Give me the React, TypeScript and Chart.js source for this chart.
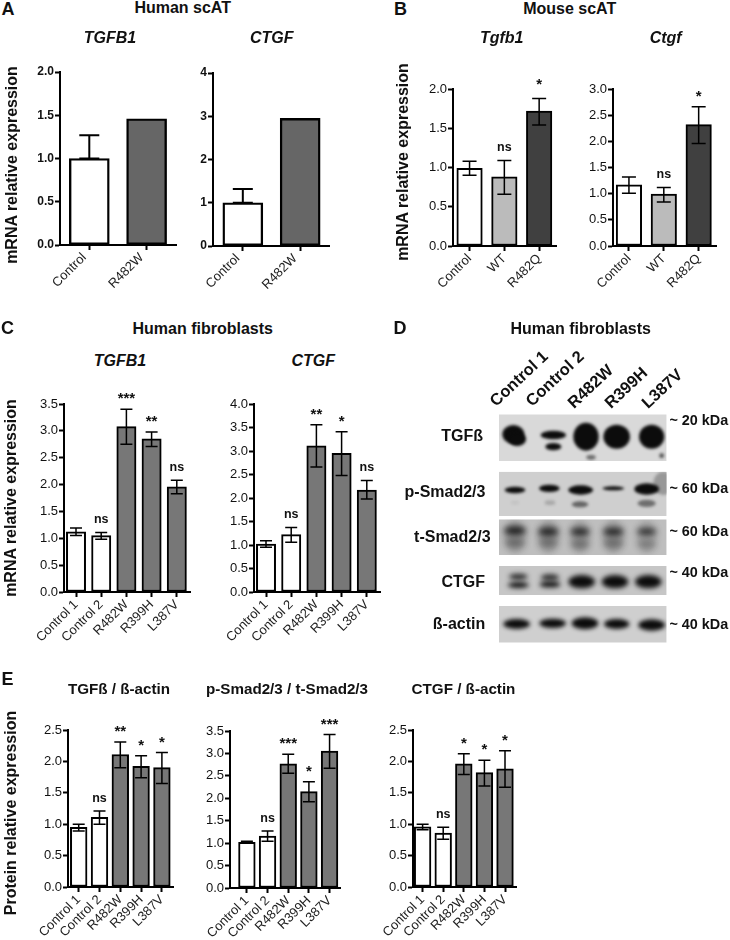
import React, { useEffect, useRef } from "react";
import { Chart, registerables } from "chart.js";

Chart.register(...registerables);

const FONT = '"Liberation Sans", Arial, sans-serif';

// ---------- data ----------
const labelsA = ["Control", "R482W"];
const labelsB = ["Control", "WT", "R482Q"];
const labelsCE = ["Control 1", "Control 2", "R482W", "R399H", "L387V"];

const a1Values = [1.0, 1.46];
const a1Low = [1.0, 1.46];
const a1High = [1.27, 1.46];
const a2Values = [1.0, 2.95];
const a2Low = [1.0, 2.95];
const a2High = [1.32, 2.95];

const b1Values = [0.99, 0.88, 1.72];
const b1Low = [0.9, 0.66, 1.54];
const b1High = [1.08, 1.09, 1.88];
const b1Sig = ["", "ns", "*"];
const b2Values = [1.17, 0.99, 2.32];
const b2Low = [1.01, 0.84, 1.96];
const b2High = [1.32, 1.12, 2.66];
const b2Sig = ["", "ns", "*"];

const c1Values = [1.12, 1.05, 3.08, 2.85, 1.96];
const c1Low = [1.05, 0.98, 2.75, 2.71, 1.83];
const c1High = [1.19, 1.11, 3.4, 2.98, 2.08];
const c1Sig = ["", "ns", "***", "**", "ns"];
const c2Values = [1.02, 1.22, 3.11, 2.95, 2.17];
const c2Low = [0.95, 1.06, 2.66, 2.48, 1.98];
const c2High = [1.09, 1.37, 3.56, 3.41, 2.37];
const c2Sig = ["", "ns", "**", "*", "ns"];

const e1Values = [0.95, 1.11, 2.11, 1.92, 1.9];
const e1Low = [0.89, 1.0, 1.9, 1.74, 1.65];
const e1High = [1.0, 1.21, 2.31, 2.09, 2.14];
const e1Sig = ["", "ns", "**", "*", "*"];
const e2Values = [1.02, 1.16, 2.77, 2.15, 3.05];
const e2Low = [1.0, 1.04, 2.56, 1.92, 2.67];
const e2High = [1.04, 1.27, 2.98, 2.37, 3.42];
const e2Sig = ["", "ns", "***", "*", "***"];
const e3Values = [0.96, 0.86, 1.96, 1.82, 1.88];
const e3Low = [0.91, 0.76, 1.79, 1.61, 1.59];
const e3High = [1.0, 0.95, 2.12, 2.02, 2.17];
const e3Sig = ["", "ns", "*", "*", "*"];

const colorsA = ["#ffffff", "#666666"];
const colorsB = ["#ffffff", "#bbbbbb", "#404040"];
const colorsCE = ["#ffffff", "#ffffff", "#777777", "#777777", "#777777"];

// Western blot: membrane [x0, y0, x1, y1, grey, blur] and bands [x, y, rx, ry, alpha]
const blotMembranes: number[][] = [
  [297, 283, 800, 423, 217, 1.6],
  [297, 455, 800, 588, 207, 1.8],
  [297, 598, 800, 705, 190, 3],
  [297, 738, 800, 825, 198, 2.4],
  [297, 858, 800, 968, 207, 2],
];
const blotTgfb: number[][] = [
  [340, 343, 33, 28, 1], [352, 358, 26, 20, 1],
  [460, 345, 38, 13, 1], [460, 380, 24, 11, 1],
  [558, 350, 38, 42, 1], [573, 412, 14, 7, 0.55],
  [650, 350, 40, 36, 1], [755, 350, 38, 36, 1], [785, 407, 7, 7, 0.7],
];
const blotPSmad: number[][] = [
  [345, 510, 31, 10, 1], [448, 505, 31, 11, 1], [542, 510, 37, 14, 1],
  [640, 505, 33, 6, 1], [740, 507, 37, 17, 1],
  [450, 548, 16, 7, 0.2], [540, 553, 25, 9, 0.55], [740, 550, 27, 11, 0.5],
  [345, 548, 12, 5, 0.08], [790, 490, 30, 35, 0.28],
];
const blotTSmad: number[][] = [
  [345, 650, 32, 50, 0.18], [445, 650, 32, 50, 0.18], [540, 650, 30, 50, 0.16],
  [640, 650, 32, 50, 0.18], [740, 650, 30, 50, 0.14],
  [345, 632, 33, 13, 0.9], [445, 635, 31, 13, 0.85], [540, 635, 29, 12, 0.85],
  [640, 635, 31, 12, 0.85], [740, 635, 29, 10, 0.85],
  [345, 668, 30, 15, 0.35], [445, 668, 28, 15, 0.33], [540, 672, 28, 15, 0.33],
  [640, 670, 30, 15, 0.33], [740, 672, 28, 15, 0.26],
];
const blotCtgf: number[][] = [
  [355, 770, 28, 9, 0.85], [355, 795, 32, 9, 1],
  [450, 772, 28, 9, 0.85], [450, 793, 32, 9, 1],
  [545, 785, 40, 20, 1], [645, 785, 40, 20, 1], [745, 785, 40, 20, 1],
];
const blotActin: number[][] = [
  [350, 912, 40, 15, 1], [458, 910, 40, 14, 1], [555, 910, 40, 18, 1],
  [650, 912, 38, 15, 1], [755, 915, 40, 17, 1],
];

type Spec = {
  labels: string[]; values: number[]; low: number[]; high: number[]; sig?: string[];
  colors: string[]; yMax: number; yStep: number; decimals: number;
  axisX: number; top: number; bottom: number; right: number; c0: number; step: number;
  barW: number; capW: number; errW: number; tickBold?: boolean; tickFont: number;
  borderW?: number; labelShift?: number; starLift?: number;
};

const makeChart = (canvas: HTMLCanvasElement, sp: Spec, yw: number, pt: number, pr: number, xh: number) => {
  const errorPlugin = {
    id: "errs",
    afterDatasetsDraw(chart: any) {
      const { ctx, scales } = chart;
      ctx.save();
      ctx.strokeStyle = "#000";
      ctx.lineWidth = sp.errW;
      sp.values.forEach((_, i) => {
        const x = scales.x.getPixelForValue(i);
        const yl = scales.y.getPixelForValue(sp.low[i]);
        const yh = scales.y.getPixelForValue(sp.high[i]);
        if (sp.high[i] !== sp.low[i]) {
          ctx.beginPath();
          ctx.moveTo(x, yl); ctx.lineTo(x, yh);
          ctx.moveTo(x - sp.capW / 2, yh); ctx.lineTo(x + sp.capW / 2, yh);
          ctx.moveTo(x - sp.capW / 2, yl); ctx.lineTo(x + sp.capW / 2, yl);
          ctx.stroke();
        }
        const s = sp.sig ? sp.sig[i] : "";
        if (s) {
          ctx.fillStyle = "#111";
          ctx.textAlign = "center";
          ctx.textBaseline = "alphabetic";
          if (s === "ns") {
            ctx.font = `bold 12.5px ${FONT}`;
            ctx.fillText(s, x, yh - 9.5);
          } else {
            ctx.font = `bold 15px ${FONT}`;
            ctx.fillText(s, x, yh - 6 - (sp.starLift || 0));
          }
        }
      });
      ctx.restore();
    },
  };
  return new Chart(canvas, {
    type: "bar",
    data: {
      datasets: [{
        data: sp.values.map((v, i) => ({ x: i, y: v })),
        backgroundColor: sp.colors,
        borderColor: "#000",
        borderWidth: sp.borderW || 2,
        borderSkipped: false,
        barThickness: sp.barW,
      }],
    } as any,
    options: {
      animation: false,
      responsive: false,
      maintainAspectRatio: false,
      layout: { padding: { top: pt, right: pr, left: 0, bottom: 0 } },
      plugins: { legend: { display: false }, tooltip: { enabled: false }, title: { display: false } },
      scales: {
        x: {
          type: "linear",
          offset: false,
          min: (sp.axisX - sp.c0) / sp.step,
          max: (sp.right - sp.c0) / sp.step,
          afterBuildTicks: (s: any) => { s.ticks = sp.labels.map((_, i) => ({ value: i })); },
          afterFit: (s: any) => { s.height = xh; s.paddingLeft = 0; s.paddingRight = 0; },
          grid: { offset: false, display: true, drawOnChartArea: false, drawTicks: true, tickLength: 5, tickWidth: 2, tickColor: "#000" },
          border: { display: true, width: 2, color: "#000", z: 2 },
          ticks: {
            autoSkip: false, minRotation: 45, maxRotation: 45, padding: 0, color: "#222",
            labelOffset: sp.labelShift || 0,
            font: { family: FONT, size: 13 },
            callback: (_v: any, i: number) => sp.labels[i],
          },
        },
        y: {
          type: "linear",
          min: 0,
          max: sp.yMax,
          afterFit: (s: any) => { s.width = yw; s.paddingTop = 0; s.paddingBottom = 0; },
          grid: { display: true, drawOnChartArea: false, drawTicks: true, tickLength: 5, tickWidth: 2, tickColor: "#000" },
          border: { display: true, width: 2, color: "#000", z: 2 },
          ticks: {
            stepSize: sp.yStep, padding: 1, color: "#111",
            font: { family: FONT, size: sp.tickFont, weight: sp.tickBold ? "bold" : "normal" },
            callback: (v: any) => Number(v).toFixed(sp.decimals),
          },
        },
      },
    } as any,
    plugins: [errorPlugin],
  } as any);
};

const BarPanel = ({ sp }: { sp: Spec }) => {
  const ref = useRef<HTMLCanvasElement>(null);
  const yw = 44, pt = 34, pr = 6, xh = 58;
  const left = sp.axisX - yw;
  const topPx = sp.top - pt;
  const width = sp.right - sp.axisX + yw + pr;
  const height = sp.bottom - sp.top + pt + xh;
  useEffect(() => {
    const c = makeChart(ref.current!, sp, yw, pt, pr, xh);
    return () => c.destroy();
  }, []);
  return <canvas ref={ref} width={width} height={height} style={{ position: "absolute", left, top: topPx }} />;
};

const blotGroups = [blotTgfb, blotPSmad, blotTSmad, blotCtgf, blotActin];

const BlotPanel = () => {
  const ref = useRef<HTMLCanvasElement>(null);
  useEffect(() => {
    const blotPlugin = {
      id: "blot",
      beforeDatasetsDraw(chart: any) {
        const { ctx, scales } = chart;
        const X = (v: number) => scales.x.getPixelForValue(v);
        const Y = (v: number) => scales.y.getPixelForValue(v);
        blotMembranes.forEach((m, k) => {
          ctx.save();
          ctx.beginPath();
          ctx.rect(X(m[0]), Y(m[1]), X(m[2]) - X(m[0]), Y(m[3]) - Y(m[1]));
          ctx.clip();
          ctx.fillStyle = `rgb(${m[4]},${m[4]},${m[4]})`;
          ctx.fillRect(X(m[0]), Y(m[1]), X(m[2]) - X(m[0]), Y(m[3]) - Y(m[1]));
          ctx.filter = `blur(${m[5]}px)`;
          blotGroups[k].forEach((b) => {
            ctx.fillStyle = `rgba(12,12,12,${b[4]})`;
            ctx.beginPath();
            ctx.ellipse(X(b[0]), Y(b[1]), (X(b[0] + b[2]) - X(b[0])), Math.abs(Y(b[1] + b[3]) - Y(b[1])), 0, 0, Math.PI * 2);
            ctx.fill();
          });
          ctx.restore();
        });
      },
    };
    const c = new Chart(ref.current!, {
      type: "scatter",
      data: { datasets: [{ data: blotGroups.flat().map((b) => ({ x: b[0], y: b[1] })), pointRadius: 0 }] },
      options: {
        animation: false,
        responsive: false,
        maintainAspectRatio: false,
        plugins: { legend: { display: false }, tooltip: { enabled: false } },
        scales: {
          x: { type: "linear", min: 0, max: 990, display: false },
          y: { type: "linear", min: 0, max: 990, reverse: true, display: false },
        },
      },
      plugins: [blotPlugin],
    } as any);
    return () => c.destroy();
  }, []);
  return <canvas ref={ref} width={330} height={330} style={{ position: "absolute", left: 400, top: 320 }} />;
};

const T = ({ x, y, s, size = 16, italic, rot = 0, anchor = "center", weight = "bold" }: any) => (
  <div
    style={{
      position: "absolute", left: x, top: y, whiteSpace: "nowrap", color: "#111",
      fontFamily: FONT, fontSize: size, fontWeight: weight, fontStyle: italic ? "italic" : "normal", lineHeight: 1,
      transformOrigin: anchor === "left" ? "0 50%" : "50% 50%",
      transform: anchor === "left" ? `translate(0,-50%) rotate(${rot}deg)` : `translate(-50%,-50%) rotate(${rot}deg)`,
    }}
  >{s}</div>
);

const panels: Spec[] = [
  { labels: labelsA, values: a1Values, low: a1Low, high: a1High, colors: colorsA, yMax: 2, yStep: 0.5, decimals: 1, axisX: 60, top: 71.7, bottom: 245.3, right: 176, c0: 89.3, step: 57.3, barW: 40, capW: 20, errW: 2, tickBold: true, tickFont: 12, borderW: 2.4, labelShift: -5 },
  { labels: labelsA, values: a2Values, low: a2Low, high: a2High, colors: colorsA, yMax: 4, yStep: 1, decimals: 0, axisX: 213.3, top: 72.7, bottom: 246, right: 330, c0: 243.3, step: 57.7, barW: 40, capW: 20, errW: 2, tickBold: true, tickFont: 12, borderW: 2.4, labelShift: -5 },
  { labels: labelsB, values: b1Values, low: b1Low, high: b1High, sig: b1Sig, colors: colorsB, yMax: 2, yStep: 0.5, decimals: 1, axisX: 452.7, top: 88.7, bottom: 245.7, right: 556, c0: 469.3, step: 34.9, barW: 25.5, capW: 14, errW: 1.5, tickFont: 13, starLift: 3 },
  { labels: labelsB, values: b2Values, low: b2Low, high: b2High, sig: b2Sig, colors: colorsB, yMax: 3, yStep: 0.5, decimals: 1, axisX: 613.3, top: 88.7, bottom: 245.7, right: 716.7, c0: 629.3, step: 35, barW: 25.5, capW: 14, errW: 1.5, tickFont: 13 },
  { labels: labelsCE, values: c1Values, low: c1Low, high: c1High, sig: c1Sig, colors: colorsCE, yMax: 3.5, yStep: 0.5, decimals: 1, axisX: 64, top: 404, bottom: 592.3, right: 190, c0: 76, step: 25.2, barW: 19.3, capW: 12, errW: 1.5, tickFont: 13 },
  { labels: labelsCE, values: c2Values, low: c2Low, high: c2High, sig: c2Sig, colors: colorsCE, yMax: 4, yStep: 0.5, decimals: 1, axisX: 254, top: 404, bottom: 592.3, right: 380, c0: 266, step: 25.2, barW: 19.3, capW: 12, errW: 1.5, tickFont: 13 },
  { labels: labelsCE, values: e1Values, low: e1Low, high: e1High, sig: e1Sig, colors: colorsCE, yMax: 2.5, yStep: 0.5, decimals: 1, axisX: 68.3, top: 730, bottom: 887.7, right: 173.3, c0: 79, step: 20.8, barW: 16.7, capW: 12, errW: 1.5, tickFont: 13 },
  { labels: labelsCE, values: e2Values, low: e2Low, high: e2High, sig: e2Sig, colors: colorsCE, yMax: 3.5, yStep: 0.5, decimals: 1, axisX: 230, top: 730.7, bottom: 887.7, right: 340.7, c0: 247, step: 20.8, barW: 16.7, capW: 12, errW: 1.5, tickFont: 13 },
  { labels: labelsCE, values: e3Values, low: e3Low, high: e3High, sig: e3Sig, colors: colorsCE, yMax: 2.5, yStep: 0.5, decimals: 1, axisX: 413.3, top: 730, bottom: 887.7, right: 517.3, c0: 423, step: 20.8, barW: 16.7, capW: 12, errW: 1.5, tickFont: 13 },
];

export default function App() {
  return (
    <div style={{ position: "absolute", left: 0, top: 0, width: 730, height: 940, overflow: "hidden", background: "#fff" }}>
      {panels.map((sp, i) => <BarPanel key={i} sp={sp} />)}
      <BlotPanel />

      <T x={8} y={9} s="A" size={18} />
      <T x={182.7} y={8} s="Human scAT" />
      <T x={110} y={38} s="TGFB1" italic />
      <T x={271.7} y={38} s="CTGF" italic />
      <T x={11.7} y={165} s="mRNA relative expression" rot={-90} />

      <T x={400.5} y={9} s="B" size={18} />
      <T x={569.7} y={9} s="Mouse scAT" />
      <T x={501.7} y={38} s="Tgfb1" italic />
      <T x={665.7} y={38} s="Ctgf" italic />
      <T x={403.3} y={161.7} s="mRNA relative expression" rot={-90} />

      <T x={7.5} y={328} s="C" size={18} />
      <T x={202.7} y={328.5} s="Human fibroblasts" />
      <T x={120} y={360.7} s="TGFB1" italic />
      <T x={313.3} y={360.7} s="CTGF" italic />
      <T x={10.7} y={498.3} s="mRNA relative expression" rot={-90} />

      <T x={400} y={328} s="D" size={18} />
      <T x={580.7} y={328.5} s="Human fibroblasts" />
      <T x={491.7} y={403} s="Control 1" size={16.5} rot={-43} anchor="left" />
      <T x={528} y={403} s="Control 2" size={16.5} rot={-43} anchor="left" />
      <T x={570} y={405} s="R482W" size={16.5} rot={-43} anchor="left" />
      <T x={607} y={405} s="R399H" size={16.5} rot={-43} anchor="left" />
      <T x={644} y={405} s="L387V" size={16.5} rot={-43} anchor="left" />
      <T x={462.2} y={436} s="TGFß" />
      <T x={445} y={491.7} s="p-Smad2/3" />
      <T x={452.3} y={536.7} s="t-Smad2/3" />
      <T x={463.3} y={581.7} s="CTGF" />
      <T x={459} y={624} s="ß-actin" />
      <T x={698.8} y={420} s="~ 20 kDa" size={14.4} />
      <T x={698.8} y={487.7} s="~ 60 kDa" size={14.4} />
      <T x={698.8} y={531} s="~ 60 kDa" size={14.4} />
      <T x={698.8} y={572} s="~ 40 kDa" size={14.4} />
      <T x={698.8} y={624} s="~ 40 kDa" size={14.4} />

      <T x={7.5} y={679} s="E" size={18} />
      <T x={119} y={689} s="TGFß / ß-actin" size={15.2} />
      <T x={287} y={689} s="p-Smad2/3 / t-Smad2/3" size={15.2} />
      <T x={463.5} y={689} s="CTGF / ß-actin" size={15.2} />
      <T x={11} y={813.3} s="Protein relative expression" rot={-90} />
    </div>
  );
}
